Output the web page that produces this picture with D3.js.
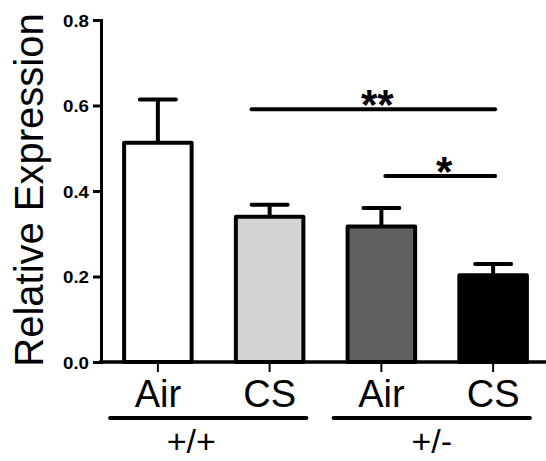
<!DOCTYPE html>
<html>
<head>
<meta charset="utf-8">
<script src="https://cdn.jsdelivr.net/npm/d3@7"></script>
<style>
  html, body { margin: 0; padding: 0; background: #fff; }
  svg { display: block; }
  text { font-family: "Liberation Sans", Arial, sans-serif; }
</style>
</head>
<body>
<svg id="chart" width="546" height="461"></svg>
<script>
// ---- data ----
const categories = ["Air (+/+)", "CS (+/+)", "Air (+/-)", "CS (+/-)"];
const categoryLabels = ["Air", "CS", "Air", "CS"];
const means = [0.513, 0.340, 0.317, 0.203];
const errors = [0.101, 0.028, 0.043, 0.026];
const barColors = ["#ffffff", "#d3d3d3", "#606060", "#000000"];
const groups = ["+/+", "+/-"];
const groupMembers = [[0, 1], [2, 3]];
const yTicks = [0.0, 0.2, 0.4, 0.6, 0.8];
const sigFrom = [1, 2];
const sigTo = [3, 3];
const sigLevel = [0.591, 0.435];
const sigLabels = ["**", "*"];

// ---- layout ----
const svg = d3.select("#chart");
const y = d3.scaleLinear().domain([0, 0.8]).range([362, 20]);
const x = d3.scaleBand().domain(categories).range([102, 549])
  .paddingInner(0.36).paddingOuter(0.18);
const bw = x.bandwidth();
const cx = i => x(categories[i]) + bw / 2;

// Y axis
const yAxis = svg.append("g").attr("transform", "translate(101,0)")
  .call(d3.axisLeft(y).tickValues(yTicks).tickFormat(d3.format(".1f"))
    .tickSize(8).tickSizeOuter(8).tickPadding(4));
yAxis.select(".domain").attr("stroke", "#000").attr("stroke-width", 3).attr("fill", "none");
yAxis.selectAll(".tick line").attr("stroke", "#000").attr("stroke-width", 3);
yAxis.selectAll(".tick text")
  .attr("font-family", "'Liberation Sans', Arial, sans-serif")
  .attr("font-size", 16).attr("font-weight", "bold").attr("fill", "#000")
  .attr("textLength", 26).attr("lengthAdjust", "spacingAndGlyphs")
  .attr("dy", "0.4em");

// X axis
const xAxis = svg.append("g").attr("transform", "translate(0,362)")
  .call(d3.axisBottom(x).tickSize(10).tickSizeOuter(0).tickFormat(""));
xAxis.select(".domain").remove();
xAxis.selectAll(".tick line").attr("stroke", "#000").attr("stroke-width", 2);
svg.append("line").attr("x1", 99).attr("x2", 546).attr("y1", 362).attr("y2", 362)
  .attr("stroke", "#000").attr("stroke-width", 3.5);

// error bars
const eb = svg.append("g");
categories.forEach((c, i) => {
  eb.append("line").attr("x1", cx(i)).attr("x2", cx(i))
    .attr("y1", y(means[i])).attr("y2", y(means[i] + errors[i]))
    .attr("stroke", "#000").attr("stroke-width", 4);
  eb.append("line").attr("x1", cx(i) - 18).attr("x2", cx(i) + 18)
    .attr("y1", y(means[i] + errors[i])).attr("y2", y(means[i] + errors[i]))
    .attr("stroke", "#000").attr("stroke-width", 4).attr("stroke-linecap", "round");
});

// bars
svg.append("g").selectAll("rect").data(categories).join("rect")
  .attr("x", d => x(d) + 2)
  .attr("width", bw - 4)
  .attr("y", (d, i) => y(means[i]))
  .attr("height", (d, i) => y(0) - y(means[i]))
  .attr("fill", (d, i) => barColors[i])
  .attr("stroke", "#000").attr("stroke-width", 4)
  .attr("stroke-linejoin", "round");

// category labels
svg.append("g").selectAll("text").data(categoryLabels).join("text")
  .attr("x", (d, i) => cx(i))
  .attr("y", 407)
  .attr("text-anchor", "middle")
  .attr("font-size", 38)
  .attr("fill", "#000")
  .text(d => d);

// group lines and labels
const groupLabelDx = [-17, 0];
groups.forEach((g, k) => {
  const a = groupMembers[k][0], b = groupMembers[k][1];
  const x1 = x(categories[a]) - 12;
  const x2 = x(categories[b]) + bw + 1;
  svg.append("line").attr("x1", x1).attr("x2", x2).attr("y1", 418).attr("y2", 418)
    .attr("stroke", "#000").attr("stroke-width", 4).attr("stroke-linecap", "round");
  svg.append("text").attr("x", (x1 + x2) / 2 + groupLabelDx[k]).attr("y", 453)
    .attr("text-anchor", "middle").attr("font-size", 34).attr("fill", "#000").text(g);
});

// significance bars
const sigDx1 = [-18, 4];
sigLabels.forEach((s, k) => {
  const x1 = cx(sigFrom[k]) + sigDx1[k];
  const x2 = cx(sigTo[k]) + 2;
  const yy = y(sigLevel[k]);
  svg.append("line").attr("x1", x1).attr("x2", x2).attr("y1", yy).attr("y2", yy)
    .attr("stroke", "#000").attr("stroke-width", 4).attr("stroke-linecap", "round");
  svg.append("text").attr("x", (x1 + x2) / 2 + 4).attr("y", yy + 10)
    .attr("text-anchor", "middle").attr("font-size", 42).attr("font-weight", "bold")
    .attr("fill", "#000").text(s);
});

// y label
svg.append("text")
  .attr("transform", "translate(43,190) rotate(-90)")
  .attr("text-anchor", "middle")
  .attr("font-size", 40)
  .attr("fill", "#000")
  .text("Relative Expression");
</script>
</body>
</html>
